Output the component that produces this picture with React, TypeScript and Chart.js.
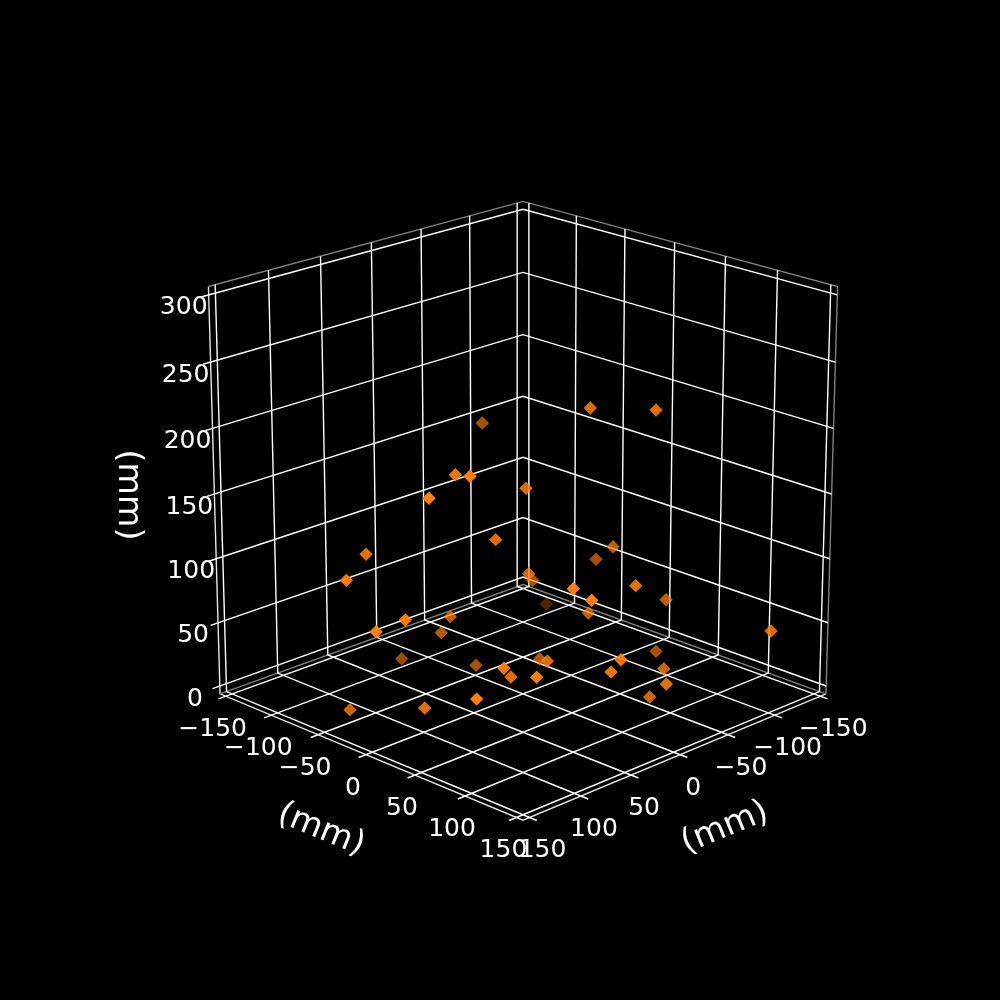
import { useEffect, useRef } from 'react'
import { Chart, registerables } from 'chart.js'

Chart.register(...registerables)

const AXIS_TICKS = [-150, -100, -50, 0, 50, 100, 150]
const Z_TICKS = [0, 50, 100, 150, 200, 250, 300]
const AXIS_LABEL = '(mm)'

// marker positions in mm
const xValues = [3.5, 108.6, 126.3, 149.5, 54.9, 78.4, 153.4, 187.9, 52.6, 5.5, 9.7, -22.2, -9.6, -30.3, 95.4, 88.5, 14.2, -105.4, 27.0, -26.9, -41.3, 188.0, 172.0, 83.7, 76.0, 70.9, 49.1, 153.8, 150.6, 164.2, 126.5, 103.3, 118.3, 31.0, 73.6, 59.2, 66.1, -44.7, 1.9, 28.6, 13.7]
const yValues = [-37.8, 43.0, 75.6, 59.6, 57.8, 51.6, 0.1, 17.4, 58.2, 15.3, 75.8, 108.4, 80.3, 43.8, 143.5, 154.2, 79.4, -80.4, 137.1, 115.9, 202.2, 46.7, 58.8, 11.1, -6.3, -53.3, 1.4, 109.3, 54.6, -7.1, 108.1, 91.5, 131.5, 47.8, 97.5, 154.2, 151.5, 90.3, 141.3, 168.6, 139.1]
const zValues = [195.8, 203.2, 214.8, 200.7, 183.2, 149.5, 144.9, 139.7, 118.7, 89.0, 236.0, 234.7, 128.3, 103.2, 142.8, 135.4, 84.0, 12.7, 124.4, 92.9, 89.5, 110.0, 117.6, 81.6, 62.1, 26.8, 31.2, 68.5, 44.4, 28.6, 82.9, 64.7, 80.7, 44.4, 69.8, 83.1, 75.1, 40.7, 55.8, 60.1, 37.0]

// same view as a matplotlib 3d axes: limits get 1/48 margin, elev 20, azim 45, dist 10
const L = 156.25
const Z_MIN = -6.25
const Z_MAX = 306.25
const ELEV = (20 * Math.PI) / 180
const DIST = 10
const BOX = 1.1
const CX = 523
const CY = 494
const SX = 3968
const SY = 3968 * 0.993
const RIGHT = [-Math.SQRT1_2, Math.SQRT1_2, 0]
const UP = [-Math.sin(ELEV) * Math.SQRT1_2, -Math.sin(ELEV) * Math.SQRT1_2, Math.cos(ELEV)]
const NORMAL = [Math.cos(ELEV) * Math.SQRT1_2, Math.cos(ELEV) * Math.SQRT1_2, Math.sin(ELEV)]

const project = (x: number, y: number, z: number) => {
  const bx = (x / L) * (BOX / 2)
  const by = (y / L) * (BOX / 2)
  const bz = ((z - Z_MIN) / (Z_MAX - Z_MIN) - 0.5) * BOX
  const r = RIGHT[0] * bx + RIGHT[1] * by
  const u = UP[0] * bx + UP[1] * by + UP[2] * bz
  const d = NORMAL[0] * bx + NORMAL[1] * by + NORMAL[2] * bz
  const k = 1 / (DIST - d)
  return { x: CX + SX * r * k, y: CY - SY * u * k, d }
}

const path = (pts: number[][], color: string) => ({
  type: 'scatter' as const,
  showLine: true,
  data: pts.map((p) => project(p[0], p[1], p[2])),
  borderColor: color,
  borderWidth: 1.4,
  pointRadius: 0,
  order: 5,
})

const axisText = {
  id: 'axisText',
  afterDraw(chart: Chart) {
    const ctx = chart.ctx
    const fmt = (v: number) => String(v).replace('-', '\u2212')
    ctx.save()
    ctx.fillStyle = '#fff'
    ctx.textAlign = 'center'
    ctx.textBaseline = 'middle'
    ctx.font = '25px "DejaVu Sans"'
    AXIS_TICKS.forEach((t) => {
      const a = project(L, t, Z_MIN)
      ctx.fillText(fmt(t), a.x - 13, a.y + 33.5)
      const b = project(t, L, Z_MIN)
      ctx.fillText(fmt(t), b.x + 13, b.y + 33.5)
    })
    Z_TICKS.forEach((t) => {
      const a = project(L, -L, t)
      ctx.fillText(fmt(t), a.x - 25, a.y + 13)
    })
    ctx.font = '33.3px "DejaVu Sans"'
    const rotated = (x: number, y: number, deg: number) => {
      ctx.save()
      ctx.translate(x, y)
      ctx.rotate((deg * Math.PI) / 180)
      ctx.fillText(AXIS_LABEL, 0, 0)
      ctx.restore()
    }
    rotated(321, 830, 22.4)
    rotated(725, 828, -22.4)
    rotated(128, 495, 90)
    ctx.restore()
  },
}

export default function App() {
  const chartRef = useRef<HTMLCanvasElement>(null)

  useEffect(() => {
    document.body.style.margin = '0'
    document.body.style.background = '#000'
    if (!chartRef.current) return

    const points = xValues.map((x, i) => project(x, yValues[i], zValues[i]))
    const depths = points.map((p) => p.d)
    const dMin = Math.min(...depths)
    const dMax = Math.max(...depths)
    // depth shading, far markers fade out
    const colors = depths.map((d) => `rgba(255,127,14,${0.3 + (0.7 * (d - dMin)) / (dMax - dMin)})`)

    const datasets: any[] = [
      {
        type: 'scatter',
        data: points,
        pointStyle: 'rectRot',
        pointRadius: 6.7,
        backgroundColor: colors,
        borderWidth: 0,
        order: 0,
      },
    ]
    const tick = 7
    AXIS_TICKS.forEach((t) => {
      datasets.push(path([[t, L + tick, Z_MIN], [t, -L, Z_MIN], [t, -L, Z_MAX]], '#fff'))
      datasets.push(path([[L + tick, t, Z_MIN], [-L, t, Z_MIN], [-L, t, Z_MAX]], '#fff'))
    })
    Z_TICKS.forEach((t) => {
      datasets.push(path([[L + tick, -L, t], [-L, -L, t], [-L, L, t]], '#fff'))
    })
    // pane edges are grey, the three drawn axes nearly white
    datasets.push(path([[L, -L, Z_MAX], [-L, -L, Z_MAX], [-L, L, Z_MAX], [-L, L, Z_MIN]], '#808080'))
    datasets.push(path([[L, -L, Z_MIN], [-L, -L, Z_MIN], [-L, L, Z_MIN]], '#808080'))
    datasets.push(path([[L, -L, Z_MAX], [L, -L, Z_MIN], [L, L, Z_MIN], [-L, L, Z_MIN]], '#e6e6e6'))

    const chart = new Chart(chartRef.current, {
      type: 'scatter',
      data: { datasets },
      options: {
        animation: false,
        responsive: false,
        devicePixelRatio: 1,
        layout: { padding: 0, autoPadding: false },
        plugins: { legend: { display: false }, tooltip: { enabled: false } },
        scales: {
          x: { type: 'linear', min: 0, max: 1000, display: false },
          y: { type: 'linear', min: 0, max: 1000, reverse: true, display: false },
        },
      },
      plugins: [axisText],
    })
    return () => chart.destroy()
  }, [])

  return <canvas ref={chartRef} width={1000} height={1000} style={{ display: 'block', background: '#000' }} />
}
